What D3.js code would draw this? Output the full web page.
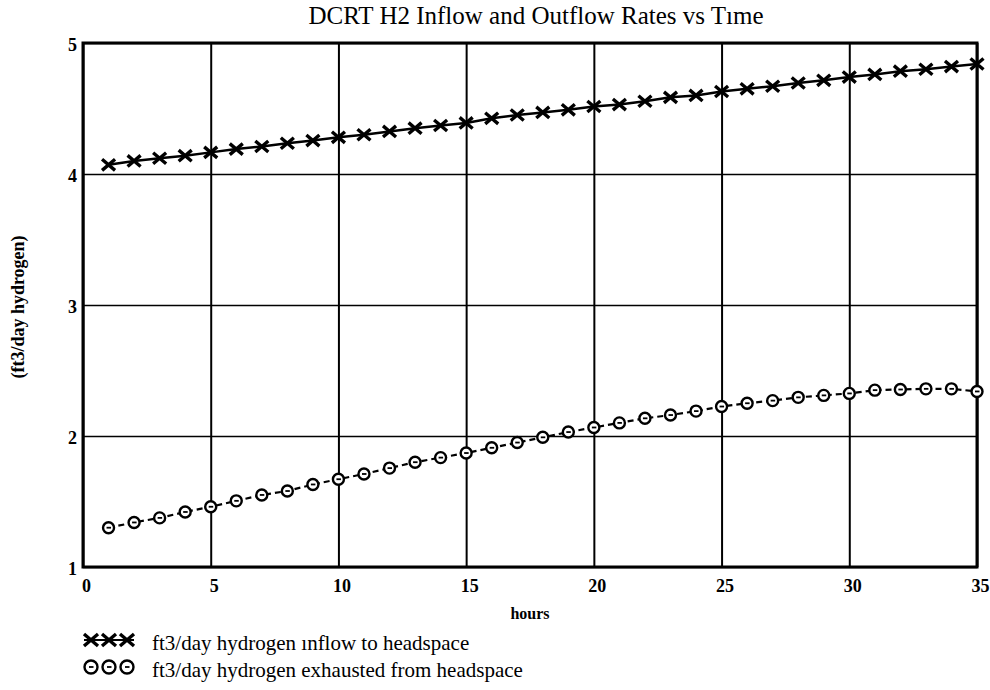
<!DOCTYPE html>
<html lang="en">
<head>
    <meta charset="UTF-8">
    <title>DCRT H2 Inflow and Outflow Rates vs Time</title>
    <script src="https://cdn.jsdelivr.net/npm/d3@7"></script>
    <style>
        body { margin: 0; background: #fff; }
    </style>
</head>
<body>
    <svg width="990" height="690" id="mainsvg"></svg>
    <script>
        // data
        const hours = [1, 2, 3, 4, 5, 6, 7, 8, 9, 10, 11, 12, 13, 14, 15, 16, 17, 18,
            19, 20, 21, 22, 23, 24, 25, 26, 27, 28, 29, 30, 31, 32, 33, 34, 35];
        const inflow = [4.07, 4.10, 4.12, 4.14, 4.165, 4.19, 4.21, 4.235, 4.255, 4.28,
            4.30, 4.325, 4.35, 4.37, 4.39, 4.425, 4.45, 4.47, 4.49, 4.515,
            4.53, 4.555, 4.585, 4.60, 4.63, 4.65, 4.67, 4.695, 4.715, 4.74,
            4.76, 4.785, 4.80, 4.82, 4.84];
        const outflow = [1.30, 1.34, 1.375, 1.42, 1.46, 1.505, 1.55, 1.58, 1.63, 1.67,
            1.71, 1.755, 1.80, 1.835, 1.87, 1.91, 1.95, 1.99, 2.03, 2.065,
            2.10, 2.135, 2.16, 2.19, 2.225, 2.25, 2.27, 2.295, 2.31, 2.325,
            2.35, 2.355, 2.36, 2.36, 2.34];
        const xTicks = [0, 5, 10, 15, 20, 25, 30, 35];
        const yTicks = [1, 2, 3, 4, 5];
        const title = 'DCRT H2 Inflow and Outflow Rates vs Tıme';
        const legendLabels = ['ft3/day hydrogen ınflow to headspace',
            'ft3/day hydrogen exhausted from headspace'];

        const serif = "'Liberation Serif', 'DejaVu Serif', serif";
        const svg = d3.select('#mainsvg').attr('font-family', serif);
        const margin = { top: 43, left: 83, right: 13, bottom: 123 };
        const width = +svg.attr('width');
        const height = +svg.attr('height');
        const innerWidth = width - margin.left - margin.right;
        const innerHeight = height - margin.top - margin.bottom;

        const xScale = d3.scaleLinear().domain([0, 35]).range([0, innerWidth]);
        const yScale = d3.scaleLinear().domain([1, 5]).range([innerHeight, 0]);

        const g = svg.append('g')
            .attr('transform', `translate(${margin.left},${margin.top})`);

        // grid
        g.append('g').call(d3.axisBottom(xScale).tickValues(xTicks).tickSize(-innerHeight).tickFormat(''))
            .attr('transform', `translate(0,${innerHeight})`)
            .call(a => a.select('.domain').remove())
            .call(a => a.selectAll('text').remove())
            .selectAll('line').attr('stroke', '#000').attr('stroke-width', 2);
        g.append('g').call(d3.axisLeft(yScale).tickValues(yTicks).tickSize(-innerWidth).tickFormat(''))
            .call(a => a.select('.domain').remove())
            .call(a => a.selectAll('text').remove())
            .selectAll('line').attr('stroke', '#000').attr('stroke-width', 1.6);

        // frame
        g.append('rect')
            .attr('width', innerWidth).attr('height', innerHeight)
            .attr('fill', 'none').attr('stroke', '#000').attr('stroke-width', 3);

        // tick labels
        g.selectAll('.xlab').data(xTicks).enter().append('text')
            .attr('font-family', serif)
            .attr('x', d => xScale(d) + 3.5)
            .attr('y', innerHeight + 25)
            .attr('text-anchor', 'middle')
            .attr('font-size', 18).attr('font-weight', 'bold')
            .text(d => d);
        g.selectAll('.ylab').data(yTicks).enter().append('text')
            .attr('font-family', serif)
            .attr('x', -6)
            .attr('y', d => yScale(d) + 8)
            .attr('text-anchor', 'end')
            .attr('font-size', 18).attr('font-weight', 'bold')
            .text(d => d);

        const line = d3.line().x(d => xScale(d[0])).y(d => yScale(d[1]));
        const inData = hours.map((h, i) => [h, inflow[i]]);
        const outData = hours.map((h, i) => [h, outflow[i]]);

        // inflow: solid line with X markers
        g.append('path').datum(inData)
            .attr('d', line).attr('fill', 'none')
            .attr('stroke', '#000').attr('stroke-width', 2.5);
        const cross = (sel, s) => sel.append('path')
            .attr('d', `M${-s},${-s * 0.85}L${s},${s * 0.85}M${-s},${s * 0.85}L${s},${-s * 0.85}`)
            .attr('stroke', '#000').attr('stroke-width', 3.4).attr('fill', 'none');
        g.selectAll('.xm').data(inData).enter().append('g')
            .attr('transform', d => `translate(${xScale(d[0])},${yScale(d[1])})`)
            .call(sel => cross(sel, 6.5));

        // outflow: dashed line with circle markers
        g.append('path').datum(outData)
            .attr('d', line).attr('fill', 'none')
            .attr('stroke', '#000').attr('stroke-width', 2.2)
            .attr('stroke-dasharray', '6,4');
        const ring = (sel, r) => {
            sel.append('circle').attr('r', r)
                .attr('fill', '#fff').attr('stroke', '#000').attr('stroke-width', 2.4);
            sel.append('line').attr('x1', -2).attr('x2', 2.5)
                .attr('stroke', '#000').attr('stroke-width', 1.8);
        };
        g.selectAll('.om').data(outData).enter().append('g')
            .attr('transform', d => `translate(${xScale(d[0])},${yScale(d[1])})`)
            .call(sel => ring(sel, 5.5));

        // title and axis labels
        svg.append('text')
            .attr('font-family', serif)
            .attr('x', 536).attr('y', 24)
            .attr('text-anchor', 'middle')
            .attr('font-size', 25)
            .text(title);
        svg.append('text')
            .attr('font-family', serif)
            .attr('x', 530).attr('y', 619)
            .attr('text-anchor', 'middle')
            .attr('font-size', 16).attr('font-weight', 'bold')
            .text('hours');
        svg.append('text')
            .attr('font-family', serif)
            .attr('transform', 'translate(24,307) rotate(-90)')
            .attr('text-anchor', 'middle')
            .attr('font-size', 18).attr('font-weight', 'bold')
            .text('(ft3/day hydrogen)');

        // legend
        const legend = svg.append('g');
        const rows = [650, 677];
        legendLabels.forEach((lab, i) => {
            const row = legend.append('g').attr('transform', `translate(0,${rows[i] - 10})`);
            if (i === 0) row.append('line').attr('x1', 84).attr('x2', 134)
                .attr('stroke', '#000').attr('stroke-width', 2);
            [91, 109, 127].forEach(x => {
                const m = row.append('g').attr('transform', `translate(${x},0)`);
                if (i === 0) cross(m, 7);
                else ring(m, 6.5);
            });
            legend.append('text')
                .attr('font-family', serif)
                .attr('x', 152).attr('y', rows[i])
                .attr('font-size', 21)
                .text(lab);
        });
    </script>
</body>
</html>
